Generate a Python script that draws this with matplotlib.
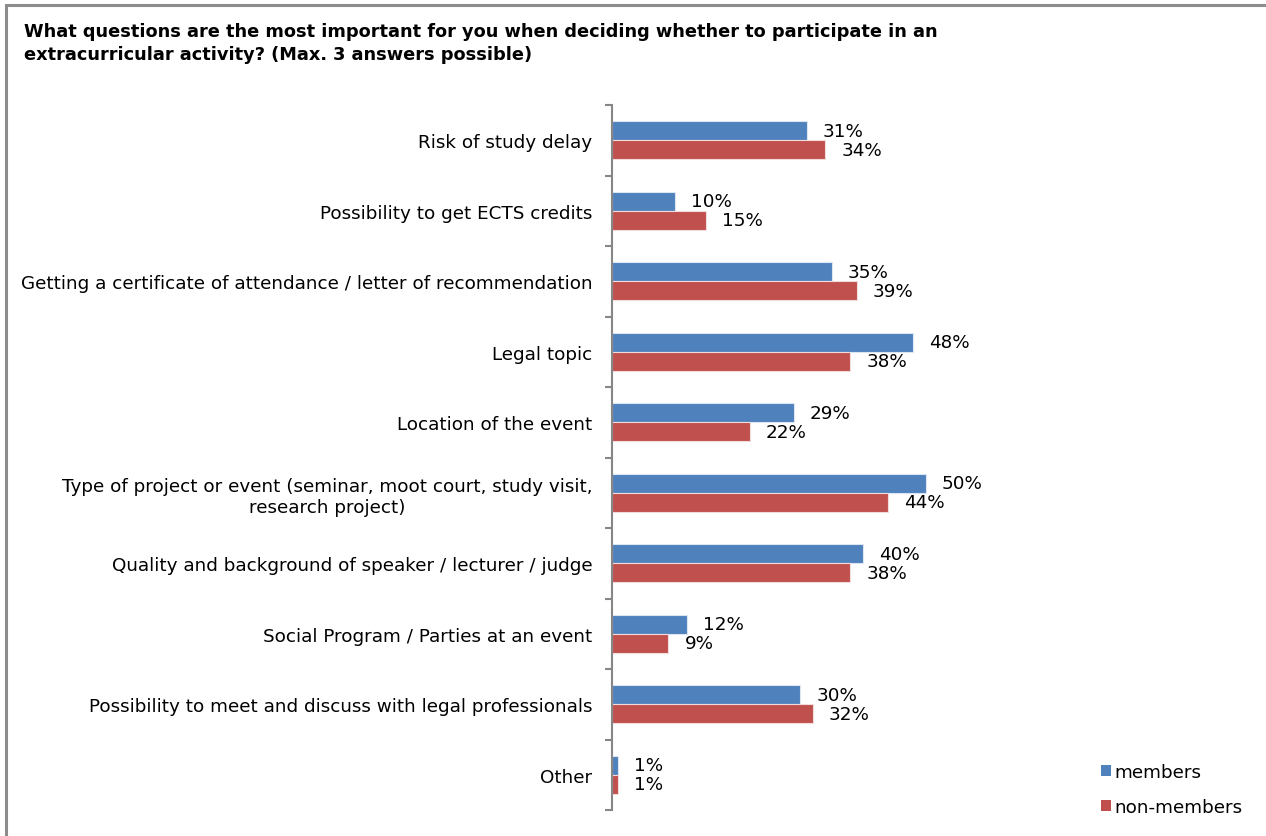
import matplotlib
matplotlib.use("Agg")
import matplotlib.pyplot as plt
from matplotlib.patches import Rectangle, Patch
import numpy as np

plt.rcParams['font.family'] = ['DejaVu Sans']

categories = [
    "Risk of study delay",
    "Possibility to get ECTS credits",
    "Getting a certificate of attendance / letter of recommendation",
    "Legal topic",
    "Location of the event",
    "Type of project or event (seminar, moot court, study visit,\nresearch project)",
    "Quality and background of speaker / lecturer / judge",
    "Social Program / Parties at an event",
    "Possibility to meet and discuss with legal professionals",
    "Other",
]
members = [31, 10, 35, 48, 29, 50, 40, 12, 30, 1]
non_members = [34, 15, 39, 38, 22, 44, 38, 9, 32, 1]
series_names = ["members", "non-members"]
colors = ["#4F81BD", "#C0504D"]

W, H = 1266, 837
fig = plt.figure(figsize=(W / 100, H / 100), dpi=100)

FS = 13.2

# outer border (top and left visible)
fig.patches.append(Rectangle((6 / W, -0.1), 1.2, 1 - 6 / H + 0.1, transform=fig.transFigure,
                             fill=False, edgecolor="#8C8C8C", linewidth=2.2))

fig.text(24 / W, 1 - 37 / H,
         "What questions are the most important for you when deciding whether to participate in an",
         fontsize=12.75, fontweight="bold", ha="left", va="baseline")
fig.text(24 / W, 1 - 60 / H,
         "extracurricular activity? (Max. 3 answers possible)",
         fontsize=12.75, fontweight="bold", ha="left", va="baseline")

left, right = 612 / W, 1114 / W
top, bottom = 1 - 106 / H, 1 - 811 / H
ax = fig.add_axes([left, bottom, right - left, top - bottom])

n = len(categories)
y = np.arange(n)
h = 0.27
ax.barh(y - h / 2, members, height=h, color=colors[0], edgecolor="#DCE6F2", linewidth=0.8,
        label=series_names[0])
ax.barh(y + h / 2, non_members, height=h, color=colors[1], edgecolor="#F2DCDB", linewidth=0.8,
        label=series_names[1])

for yy, v in zip(y, members):
    ax.annotate(f"{v}%", (v, yy - h / 2), xytext=(11.5, 0), textcoords="offset points",
                va="center", ha="left", fontsize=FS)
for yy, v in zip(y, non_members):
    ax.annotate(f"{v}%", (v, yy + h / 2), xytext=(11.5, 0), textcoords="offset points",
                va="center", ha="left", fontsize=FS)

ax.set_xlim(0, 80)
ax.set_ylim(n - 0.5, -0.5)
ax.set_yticks(y)
ax.set_yticklabels(categories, fontsize=FS, multialignment="center")
ax.tick_params(axis="y", which="major", length=0, pad=14)
ax.set_yticks(np.arange(-0.5, n, 1), minor=True)
ax.tick_params(axis="y", which="minor", length=5, width=1.5, color="#868686")
ax.set_xticks([])
for s in ["top", "right", "bottom"]:
    ax.spines[s].set_visible(False)
ax.spines["left"].set_color("#868686")
ax.spines["left"].set_linewidth(1.5)

handles = [Patch(facecolor=c, edgecolor="none") for c in colors]
fig.legend(handles, series_names, loc="upper left", bbox_to_anchor=(1094 / W, 1 - 757 / H),
           frameon=False, fontsize=FS, handlelength=0.55, handleheight=0.55, handletextpad=0.15,
           labelspacing=0.9, borderaxespad=0)

fig.savefig("out.png", dpi=100)
